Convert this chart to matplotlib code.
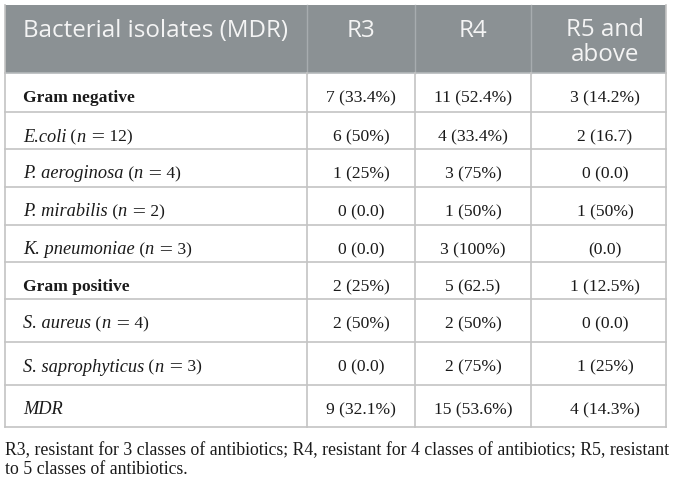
import matplotlib
matplotlib.use("Agg")
import matplotlib.pyplot as plt
from matplotlib.patches import Rectangle

# table data
headers = ["Bacterial isolates (MDR)", "R3", "R4", "R5 and\nabove"]
names = ["Gram negative", "E.coli", "P. aeroginosa", "P. mirabilis", "K. pneumoniae",
         "Gram positive", "S. aureus", "S. saprophyticus", "MDR"]
counts = [None, 12, 4, 2, 3, None, 4, 3, None]
is_group = [True, False, False, False, False, True, False, False, False]
r3 = ["7 (33.4%)", "6 (50%)", "1 (25%)", "0 (0.0)", "0 (0.0)",
      "2 (25%)", "2 (50%)", "0 (0.0)", "9 (32.1%)"]
r4 = ["11 (52.4%)", "4 (33.4%)", "3 (75%)", "1 (50%)", "3 (100%)",
      "5 (62.5)", "2 (50%)", "2 (75%)", "15 (53.6%)"]
r5 = ["3 (14.2%)", "2 (16.7)", "0 (0.0)", "1 (50%)", "(0.0)",
      "1 (12.5%)", "0 (0.0)", "1 (25%)", "4 (14.3%)"]
footnote = ["R3, resistant for 3 classes of antibiotics; R4, resistant for 4 classes of antibiotics; R5, resistant",
            "to 5 classes of antibiotics."]

# layout in pixels
W, H = 673, 482
col_x = [5, 307, 415, 531, 666]
col_mid = [None, 361, 473, 605]
row_y = [73, 112, 149, 187, 225, 262, 299, 342, 385, 427]
top = 5
grid = "#c4c4c4"

fig = plt.figure(figsize=(W / 100, H / 100), dpi=100)
ax = fig.add_axes([0, 0, 1, 1])
ax.set_xlim(0, W)
ax.set_ylim(H, 0)
ax.axis("off")
renderer = fig.canvas.get_renderer()

# header
ax.add_patch(Rectangle((col_x[0], top), col_x[-1] - col_x[0], row_y[0] - top,
                       facecolor="#8b9194", edgecolor="none"))
for x in col_x[1:-1]:
    ax.plot([x, x], [top, row_y[0]], color="#a7acaf", lw=1.0)
ax.plot([col_x[0], col_x[-1]], [row_y[0], row_y[0]], color="#b5b9bb", lw=1.2)

hfont = dict(family="Open Sans", fontsize=17.4, color="#f4f4f4")
ax.text(23, 31, headers[0], ha="left", va="center", **hfont)
ax.text(col_mid[1], 31, headers[1], ha="center", va="center", **hfont)
ax.text(col_mid[2], 31, headers[2], ha="center", va="center", **hfont)
for k, part in enumerate(headers[3].split("\n")):
    ax.text(col_mid[3], 30 + 25 * k, part, ha="center", va="center", **hfont)

# grid lines of body
for y in row_y[1:]:
    ax.plot([col_x[0], col_x[-1]], [y, y], color=grid, lw=1.2)
for x in col_x:
    ax.plot([x, x], [row_y[0], row_y[-1]], color=grid, lw=1.2)
ax.plot([col_x[0], col_x[0]], [top, row_y[0]], color=grid, lw=1.2)
ax.plot([col_x[-1], col_x[-1]], [top, row_y[0]], color=grid, lw=1.2)

serif = "Liberation Serif"
ink = "#1a1a1a"


def draw_pieces(x, y, pieces):
    # pieces: list of (text, style, size, family) drawn one after another
    for s, style, size, fam in pieces:
        t = ax.text(x, y, s, ha="left", va="center", fontstyle=style,
                    fontsize=size, family=fam, color=ink)
        x += t.get_window_extent(renderer).width


for i, name in enumerate(names):
    yc = row_y[i] + 25
    if is_group[i]:
        ax.text(23, yc, name, ha="left", va="center", fontweight="bold",
                fontsize=12.6, family=serif, color=ink)
    else:
        pieces = [(name, "italic", 13.2, serif)]
        if counts[i] is not None:
            pieces += [(" (", "normal", 12.6, serif), ("n", "italic", 13.2, serif),
                       (" ", "normal", 12.6, serif), ("=", "normal", 12.6, "DejaVu Serif"),
                       (" %d)" % counts[i], "normal", 12.6, serif)]
        draw_pieces(23, yc, pieces)
    for j, col in enumerate([r3, r4, r5]):
        ax.text(col_mid[j + 1], yc, col[i], ha="center", va="center",
                fontsize=12.6, family=serif, color=ink)

# footnote
for k, line in enumerate(footnote):
    ax.text(5, 451 + 19 * k, line, ha="left", va="center",
            fontsize=12.8, family=serif, color=ink)

fig.savefig("out.png", dpi=100)
